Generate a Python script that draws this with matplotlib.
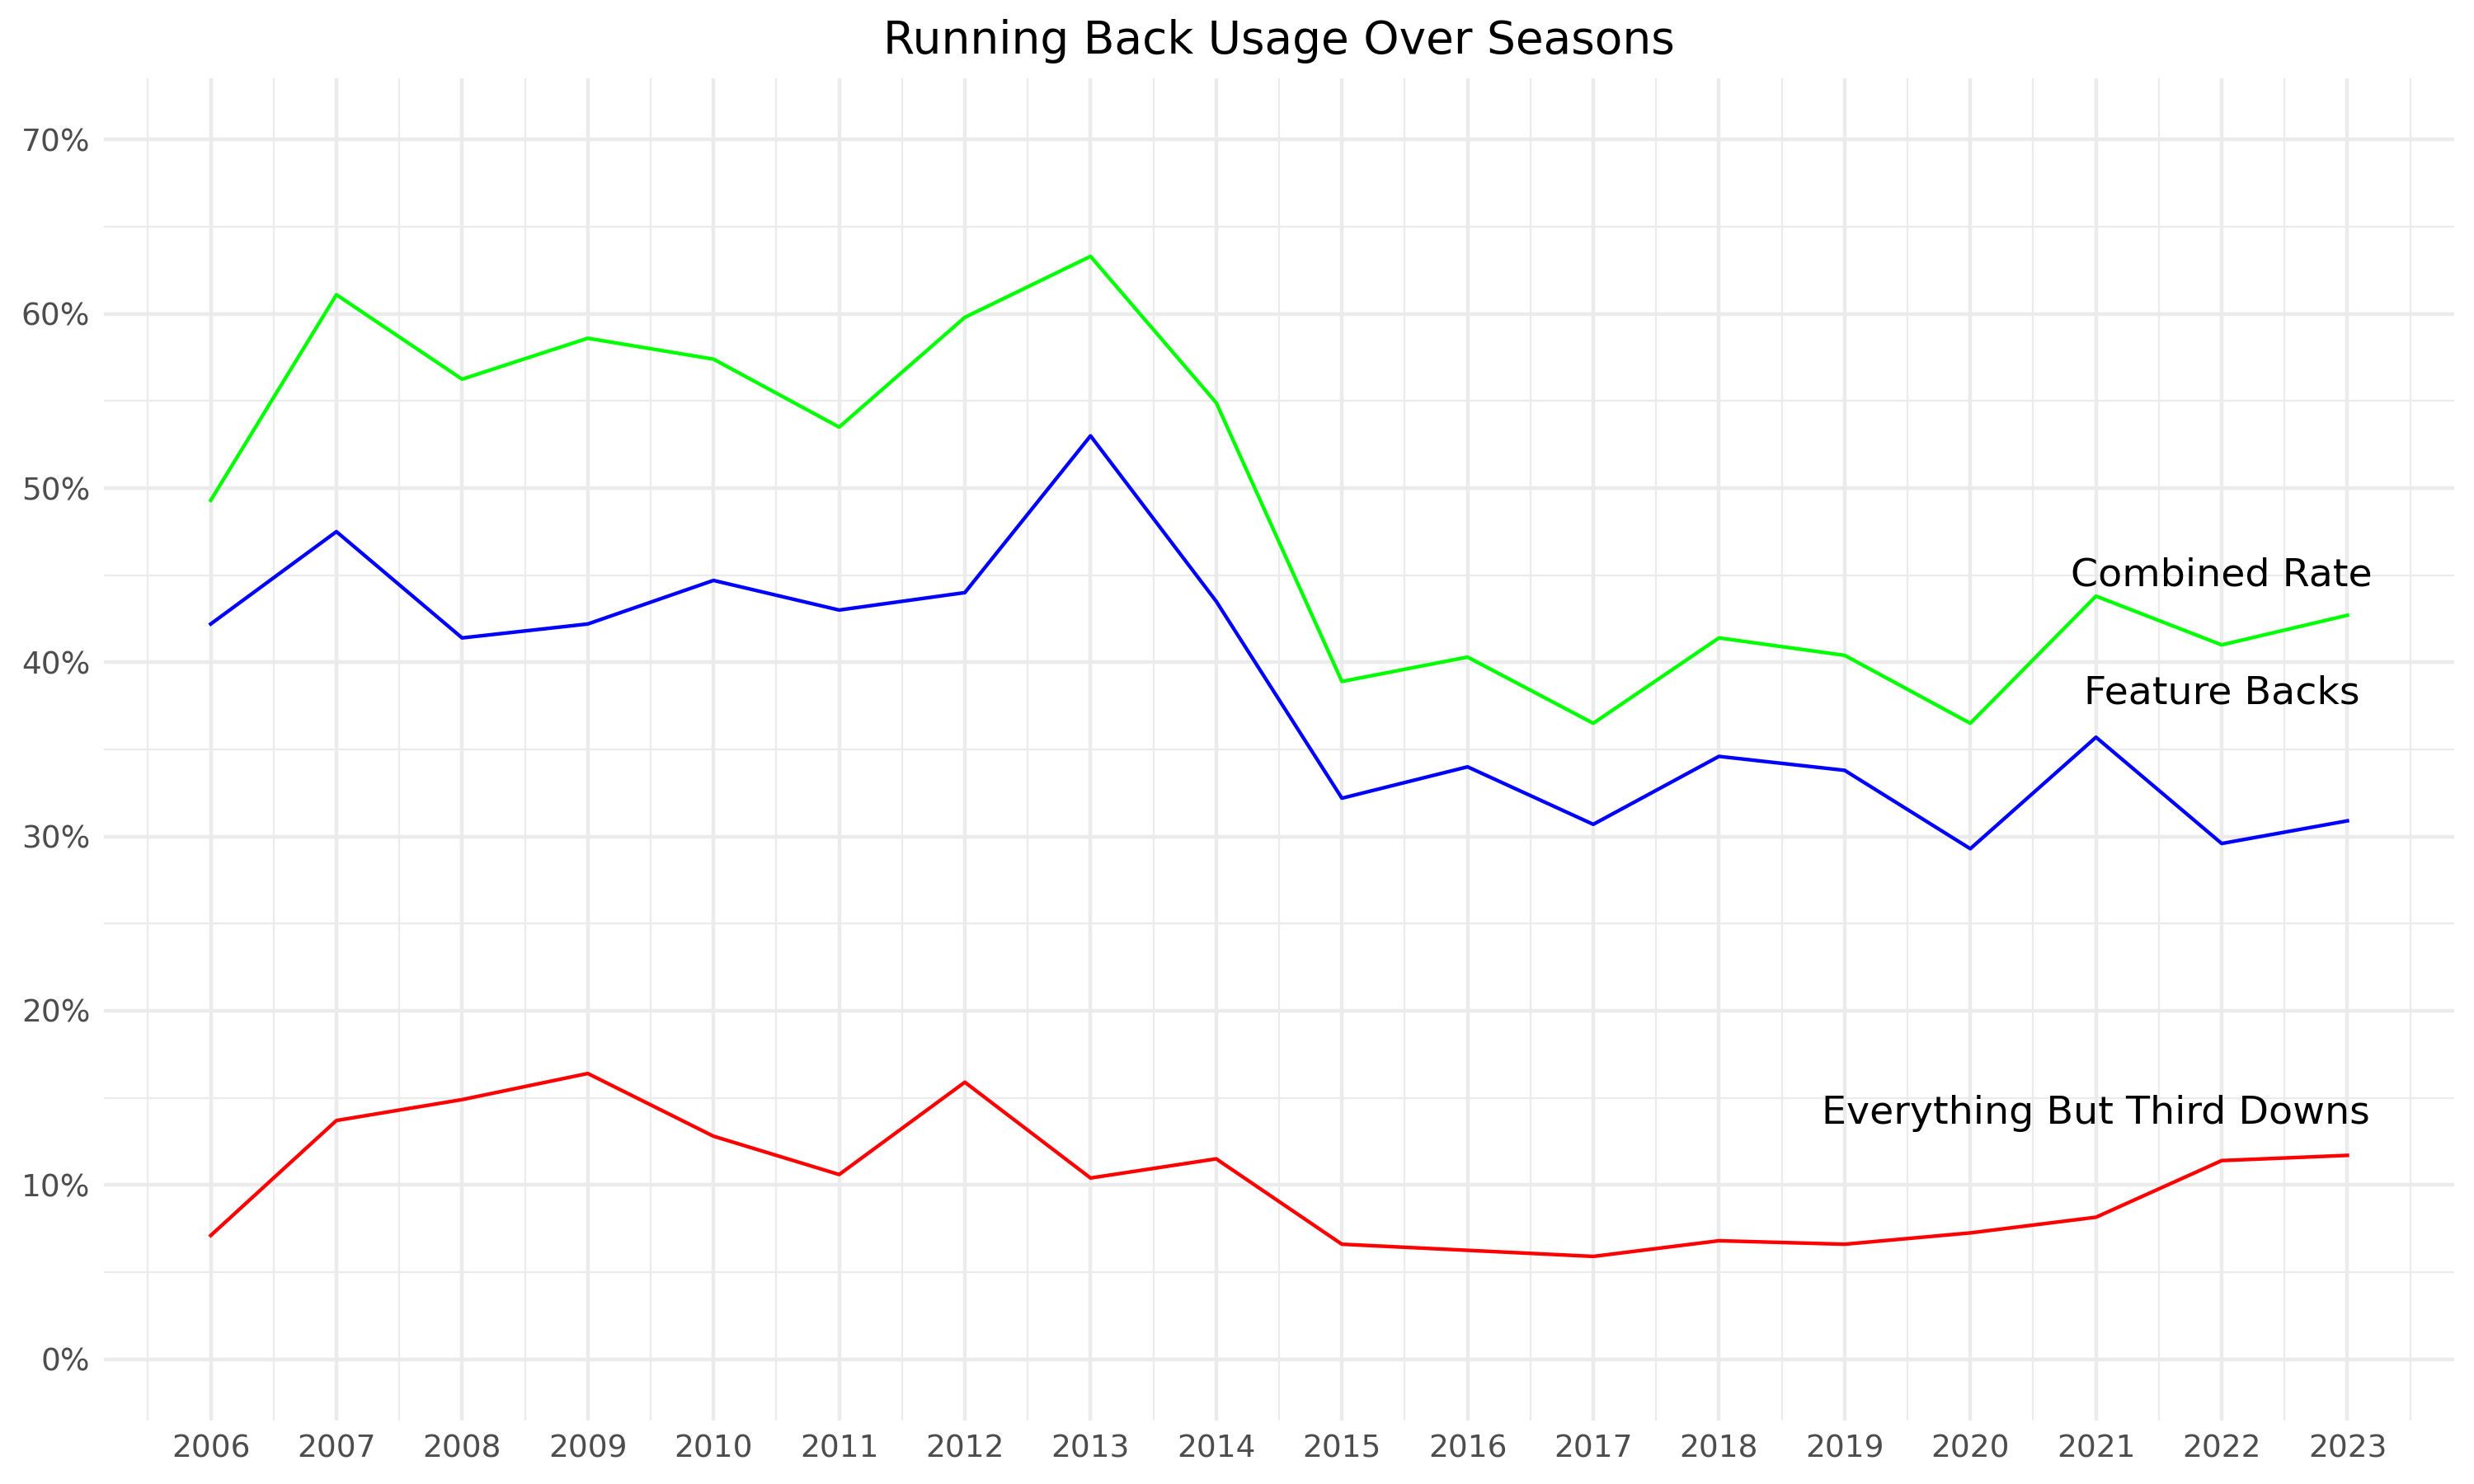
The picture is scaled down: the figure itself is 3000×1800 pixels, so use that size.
import numpy as np
import matplotlib
matplotlib.use("Agg")
import matplotlib.pyplot as plt
from matplotlib.ticker import FuncFormatter, MultipleLocator

# values (percent)
seasons = [2006, 2007, 2008, 2009, 2010, 2011, 2012, 2013, 2014,
           2015, 2016, 2017, 2018, 2019, 2020, 2021, 2022, 2023]
combined_rate = [49.3, 61.1, 56.25, 58.6, 57.4, 53.5, 59.8, 63.3, 54.9,
                 38.9, 40.3, 36.5, 41.4, 40.4, 36.5, 43.8, 41.0, 42.7]
feature_backs = [42.2, 47.5, 41.4, 42.2, 44.7, 43.0, 44.0, 53.0, 43.5,
                 32.2, 34.0, 30.7, 34.6, 33.8, 29.3, 35.7, 29.6, 30.9]
all_but_third = [7.1, 13.7, 14.9, 16.4, 12.8, 10.6, 15.9, 10.4, 11.5,
                 6.6, 6.25, 5.9, 6.8, 6.6, 7.25, 8.15, 11.4, 11.7]

labels = ["Combined Rate", "Feature Backs", "Everything But Third Downs"]
label_x = [2022, 2022, 2021]
label_y = [45.0, 38.2, 14.1]

plt.rcParams['font.family'] = ['DejaVu Sans']

fig = plt.figure(figsize=(10, 6), dpi=300)
ax = fig.add_axes([0.042, 0.043, 0.95, 0.904])

grid = "#EBEBEB"
ax.plot(seasons, combined_rate, color="#00FF00", lw=1.05, zorder=3)
ax.plot(seasons, feature_backs, color="#0000FF", lw=1.05, zorder=3)
ax.plot(seasons, all_but_third, color="#FF0000", lw=1.05, zorder=3)

for t, x, y in zip(labels, label_x, label_y):
    ax.text(x, y, t, ha="center", va="center", fontsize=11.4, color="black",
            zorder=4)

ax.set_xlim(2005.15, 2023.85)
ax.set_ylim(-3.5, 73.5)
ax.set_xticks(seasons)
ax.xaxis.set_minor_locator(MultipleLocator(0.5))
ax.yaxis.set_minor_locator(MultipleLocator(5))
ax.set_yticks(np.arange(0, 71, 10))
ax.yaxis.set_major_formatter(FuncFormatter(lambda v, p: f"{v:.0f}%"))

ax.grid(which="major", color=grid, lw=1.07)
ax.grid(which="minor", color=grid, lw=0.53)
ax.set_axisbelow(True)
for s in ax.spines.values():
    s.set_visible(False)
ax.tick_params(which="both", length=0, labelsize=9, labelcolor="#4D4D4D", pad=4)

# title centred over the panel, like ggplot
fig.suptitle("Running Back Usage Over Seasons", fontsize=13.2, y=0.987,
             x=0.042 + 0.95 / 2)

fig.savefig("out.png", dpi=300)
